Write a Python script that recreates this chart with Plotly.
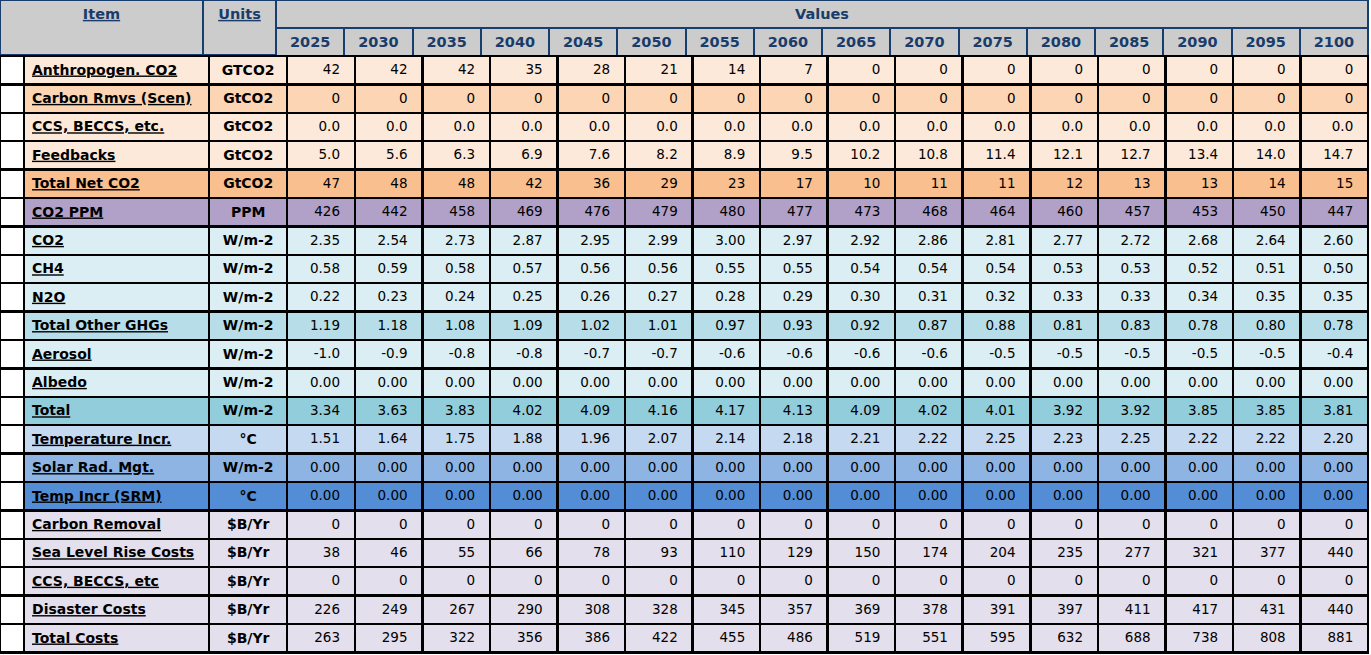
import plotly.graph_objects as go

years = ["2025", "2030", "2035", "2040", "2045", "2050", "2055", "2060",
         "2065", "2070", "2075", "2080", "2085", "2090", "2095", "2100"]

items = ["Anthropogen. CO2", "Carbon Rmvs (Scen)", "CCS, BECCS, etc.", "Feedbacks",
         "Total Net CO2", "CO2 PPM", "CO2", "CH4", "N2O", "Total Other GHGs",
         "Aerosol", "Albedo", "Total", "Temperature Incr.", "Solar Rad. Mgt.",
         "Temp Incr (SRM)", "Carbon Removal", "Sea Level Rise Costs",
         "CCS, BECCS, etc", "Disaster Costs", "Total Costs"]

units = ["GTCO2", "GtCO2", "GtCO2", "GtCO2", "GtCO2", "PPM", "W/m-2", "W/m-2",
         "W/m-2", "W/m-2", "W/m-2", "W/m-2", "W/m-2", "°C", "W/m-2", "°C",
         "$B/Yr", "$B/Yr", "$B/Yr", "$B/Yr", "$B/Yr"]

decimals = [0, 0, 1, 1, 0, 0, 2, 2, 2, 2, 1, 2, 2, 2, 2, 2, 0, 0, 0, 0, 0]

anthropogen_co2 = [42, 42, 42, 35, 28, 21, 14, 7, 0, 0, 0, 0, 0, 0, 0, 0]
carbon_rmvs = [0] * 16
ccs_beccs = [0.0] * 16
feedbacks = [5.0, 5.6, 6.3, 6.9, 7.6, 8.2, 8.9, 9.5, 10.2, 10.8, 11.4, 12.1, 12.7, 13.4, 14.0, 14.7]
total_net_co2 = [47, 48, 48, 42, 36, 29, 23, 17, 10, 11, 11, 12, 13, 13, 14, 15]
co2_ppm = [426, 442, 458, 469, 476, 479, 480, 477, 473, 468, 464, 460, 457, 453, 450, 447]
co2 = [2.35, 2.54, 2.73, 2.87, 2.95, 2.99, 3.00, 2.97, 2.92, 2.86, 2.81, 2.77, 2.72, 2.68, 2.64, 2.60]
ch4 = [0.58, 0.59, 0.58, 0.57, 0.56, 0.56, 0.55, 0.55, 0.54, 0.54, 0.54, 0.53, 0.53, 0.52, 0.51, 0.50]
n2o = [0.22, 0.23, 0.24, 0.25, 0.26, 0.27, 0.28, 0.29, 0.30, 0.31, 0.32, 0.33, 0.33, 0.34, 0.35, 0.35]
total_other_ghgs = [1.19, 1.18, 1.08, 1.09, 1.02, 1.01, 0.97, 0.93, 0.92, 0.87, 0.88, 0.81, 0.83, 0.78, 0.80, 0.78]
aerosol = [-1.0, -0.9, -0.8, -0.8, -0.7, -0.7, -0.6, -0.6, -0.6, -0.6, -0.5, -0.5, -0.5, -0.5, -0.5, -0.4]
albedo = [0.00] * 16
total_forcing = [3.34, 3.63, 3.83, 4.02, 4.09, 4.16, 4.17, 4.13, 4.09, 4.02, 4.01, 3.92, 3.92, 3.85, 3.85, 3.81]
temperature_incr = [1.51, 1.64, 1.75, 1.88, 1.96, 2.07, 2.14, 2.18, 2.21, 2.22, 2.25, 2.23, 2.25, 2.22, 2.22, 2.20]
solar_rad_mgt = [0.00] * 16
temp_incr_srm = [0.00] * 16
carbon_removal = [0] * 16
sea_level_costs = [38, 46, 55, 66, 78, 93, 110, 129, 150, 174, 204, 235, 277, 321, 377, 440]
ccs_costs = [0] * 16
disaster_costs = [226, 249, 267, 290, 308, 328, 345, 357, 369, 378, 391, 397, 411, 417, 431, 440]
total_costs = [263, 295, 322, 356, 386, 422, 455, 486, 519, 551, 595, 632, 688, 738, 808, 881]

rows = [anthropogen_co2, carbon_rmvs, ccs_beccs, feedbacks, total_net_co2, co2_ppm,
        co2, ch4, n2o, total_other_ghgs, aerosol, albedo, total_forcing,
        temperature_incr, solar_rad_mgt, temp_incr_srm, carbon_removal,
        sea_level_costs, ccs_costs, disaster_costs, total_costs]

# ---- styling ----
row_colors = ["#fde9d9", "#fcd5b4", "#fde9d9", "#fde9d9", "#fabf8f", "#b1a0c7",
              "#daeef3", "#daeef3", "#daeef3", "#b7dee8", "#daeef3", "#daeef3",
              "#92cddc", "#c5d9f1", "#8db4e2", "#538dd5",
              "#e4dfec", "#e4dfec", "#e4dfec", "#e4dfec", "#e4dfec"]

W, H = 1371, 655
FONT = "DejaVu Sans, Verdana, sans-serif"
NAVY = "#1a3c6a"
HDR_FILL = "#cccccc"
HDR_LINE = "#173e6e"
NBSP = "\u00a0"


def fmt(v, d):
    return f"{v:.{d}f}" + "\u2002"


n_rows = len(items)
n_years = len(years)

checkbox_col = [""] * n_rows
item_col = [s.replace(" ", NBSP) for s in items]
unit_col = list(units)
year_cols = [[fmt(rows[r][c], decimals[r]) for r in range(n_rows)] for c in range(n_years)]

fill = [["white"] * n_rows, row_colors, row_colors] + [row_colors] * n_years
align = ["left", "left", "center"] + ["right"] * n_years
weights = ["normal", "bold", "bold"] + ["normal"] * n_years
lines = ["none", "under", "none"] + ["none"] * n_years
sizes = [13, 14, 14] + [13.5] * n_years

HDR_H = 28
row_h = 28.4

fig = go.Figure()

# data (its own header row is invisible and sits behind the year header)
fig.add_trace(go.Table(
    domain=dict(x=[0, 1368 / W], y=[0, 1 - (56 - HDR_H) / H]),
    columnwidth=[24, 185, 78] + [67.5] * n_years,
    header=dict(values=[""] * (3 + n_years), height=HDR_H,
                fill_color="rgba(0,0,0,0)", line=dict(width=0, color="rgba(0,0,0,0)")),
    cells=dict(values=[checkbox_col, item_col, unit_col] + year_cols,
               fill_color=fill, align=align,
               line=dict(color="black", width=2.5),
               font=dict(family=FONT, size=sizes, color="black",
                         weight=weights, lineposition=lines),
               height=row_h),
))

# header: Item / Units
fig.add_trace(go.Table(
    domain=dict(x=[0, 276 / W], y=[1 - 56 / H, 1]),
    columnwidth=[203, 73],
    header=dict(values=["Item", "Units"],
                fill_color=HDR_FILL, line=dict(color=HDR_LINE, width=2),
                font=dict(family=FONT, size=14.5, color=NAVY, weight="bold",
                          lineposition="under"),
                align="center", height=55),
))

# header: Values
fig.add_trace(go.Table(
    domain=dict(x=[276 / W, 1368 / W], y=[1 - 28 / H, 1]),
    columnwidth=[1],
    header=dict(values=["Values"],
                fill_color=HDR_FILL, line=dict(color=HDR_LINE, width=2),
                font=dict(family=FONT, size=14.5, color=NAVY, weight="bold"),
                align="center", height=28),
))

# header: years
fig.add_trace(go.Table(
    domain=dict(x=[276 / W, 1368 / W], y=[1 - 56 / H, 1 - 28 / H]),
    columnwidth=[1] * n_years,
    header=dict(values=years,
                fill_color=HDR_FILL, line=dict(color=HDR_LINE, width=2),
                font=dict(family=FONT, size=14.5, color=NAVY, weight="bold"),
                align="center", height=28),
))

fig.update_layout(width=W, height=H, margin=dict(l=0, r=0, t=0, b=0),
                  paper_bgcolor="white")

fig.write_html("out.html", config={"displayModeBar": False},
               post_script="document.body.style.margin='0px';")
